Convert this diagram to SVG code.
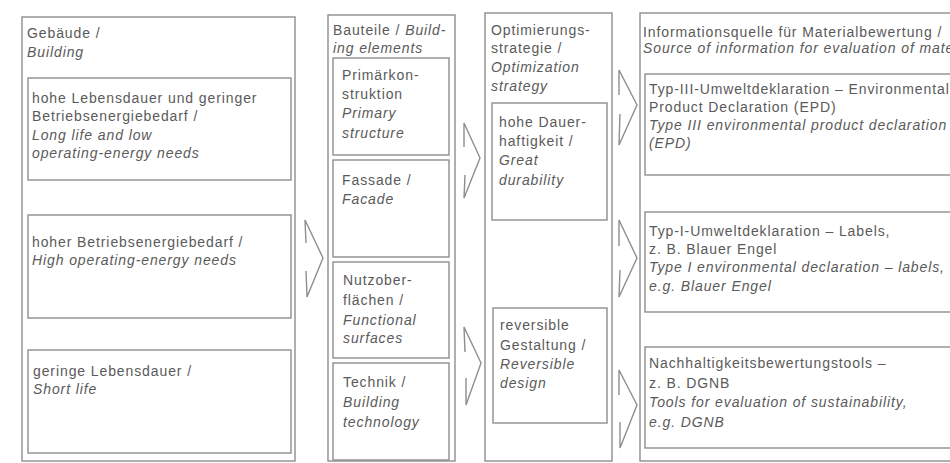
<svg xmlns="http://www.w3.org/2000/svg" width="950" height="463" viewBox="0 0 950 463">
<style>
.box{fill:none;stroke:#8e8e8e;stroke-width:1.4}
.arr{fill:none;stroke:#8e8e8e;stroke-width:1.4;stroke-linejoin:miter}
text{font-family:"Liberation Sans",Arial,sans-serif;font-size:14px;fill:#5a5a5a;letter-spacing:0.9px}
.i{font-style:italic}
</style>
<rect width="950" height="463" fill="#ffffff"/>
<g id="col-building">
<rect class="box" x="22" y="17" width="273" height="444"/>
<text x="27" y="38">Gebäude /</text>
<text x="27" y="57" class="i">Building</text>
</g>
<g id="node-long-life">
<rect class="box" x="28" y="78" width="263" height="102"/>
<text x="32" y="103">hohe Lebensdauer und geringer</text>
<text x="32" y="121">Betriebsenergiebedarf /</text>
<text x="32" y="140" class="i">Long life and low</text>
<text x="32" y="158" class="i">operating-energy needs</text>
</g>
<g id="node-high-energy">
<rect class="box" x="28" y="215" width="263" height="103"/>
<text x="32" y="247">hoher Betriebsenergiebedarf /</text>
<text x="32" y="265" class="i">High operating-energy needs</text>
</g>
<g id="node-short-life">
<rect class="box" x="28" y="350" width="263" height="103"/>
<text x="33" y="376">geringe Lebensdauer /</text>
<text x="33" y="394" class="i">Short life</text>
</g>
<g id="col-elements">
<rect class="box" x="328" y="15" width="127" height="446"/>
<text x="333" y="35">Bauteile / <tspan class="i">Build-</tspan></text>
<text x="333" y="53" class="i">ing elements</text>
</g>
<g id="node-primary">
<rect class="box" x="333" y="58" width="116" height="97"/>
<text x="342" y="80">Primärkon-</text>
<text x="342" y="99">struktion</text>
<text x="342" y="118" class="i">Primary</text>
<text x="342" y="138" class="i">structure</text>
</g>
<g id="node-facade">
<rect class="box" x="333" y="160" width="116" height="97"/>
<text x="342" y="185">Fassade /</text>
<text x="342" y="204" class="i">Facade</text>
</g>
<g id="node-surfaces">
<rect class="box" x="333" y="262" width="116" height="96"/>
<text x="343" y="285">Nutzober-</text>
<text x="343" y="305">flächen /</text>
<text x="343" y="325" class="i">Functional</text>
<text x="343" y="343" class="i">surfaces</text>
</g>
<g id="node-technology">
<rect class="box" x="333" y="363" width="116" height="97"/>
<text x="343" y="387">Technik /</text>
<text x="343" y="407" class="i">Building</text>
<text x="343" y="427" class="i">technology</text>
</g>
<g id="col-strategy">
<rect class="box" x="485" y="13" width="127" height="448"/>
<text x="491" y="35">Optimierungs-</text>
<text x="491" y="53">strategie /</text>
<text x="491" y="72" class="i">Optimization</text>
<text x="491" y="91" class="i">strategy</text>
</g>
<g id="node-durability">
<rect class="box" x="492" y="103" width="115" height="117"/>
<text x="499" y="127">hohe Dauer-</text>
<text x="499" y="146">haftigkeit /</text>
<text x="499" y="165" class="i">Great</text>
<text x="499" y="185" class="i">durability</text>
</g>
<g id="node-reversible">
<rect class="box" x="493" y="308" width="114" height="115"/>
<text x="500" y="330">reversible</text>
<text x="500" y="350">Gestaltung /</text>
<text x="500" y="369" class="i">Reversible</text>
<text x="500" y="388" class="i">design</text>
</g>
<g id="col-source">
<rect class="box" x="640" y="13" width="330" height="448"/>
<text x="643" y="37">Informationsquelle für Materialbewertung /</text>
<text x="643" y="53" class="i">Source of information for evaluation of materials</text>
</g>
<g id="node-epd">
<rect class="box" x="645" y="74" width="330" height="101"/>
<text x="649" y="94">Typ-III-Umweltdeklaration – Environmental</text>
<text x="649" y="112">Product Declaration (EPD)</text>
<text x="649" y="130" class="i">Type III environmental product declaration</text>
<text x="649" y="148" class="i">(EPD)</text>
</g>
<g id="node-labels">
<rect class="box" x="645" y="212" width="330" height="100"/>
<text x="649" y="236">Typ-I-Umweltdeklaration – Labels,</text>
<text x="649" y="254">z. B. Blauer Engel</text>
<text x="649" y="272" class="i">Type I environmental declaration – labels,</text>
<text x="649" y="291" class="i">e.g. Blauer Engel</text>
</g>
<g id="node-dgnb">
<rect class="box" x="645" y="347" width="330" height="101"/>
<text x="649" y="368">Nachhaltigkeitsbewertungstools –</text>
<text x="649" y="388">z. B. DGNB</text>
<text x="649" y="407" class="i">Tools for evaluation of sustainability,</text>
<text x="649" y="427" class="i">e.g. DGNB</text>
</g>
<g id="connectors">
<path class="arr" d="M306,243 L305,220 L323,258 L307,297 L306,271"/>
<path class="arr" d="M464,147 L464,123 L480,158 L464,198 L465,175"/>
<path class="arr" d="M465,352 L464,327 L481,363 L466,405 L466,378"/>
<path class="arr" d="M619,95 L619,70 L637,105 L619,145 L620,114"/>
<path class="arr" d="M619,246 L619,220 L637,258 L619,297 L620,270"/>
<path class="arr" d="M619,395 L619,370 L637,405 L620,448 L620,422"/>
</g>
</svg>
